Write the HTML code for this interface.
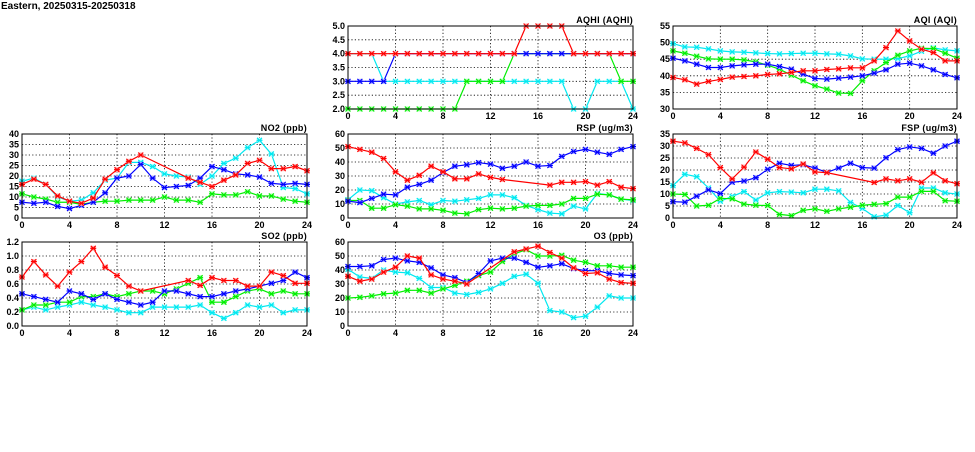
<!DOCTYPE html>
<html><head><meta charset="utf-8"><style>
body{margin:0;background:#fff;width:975px;height:447px;overflow:hidden}
svg text{font-family:"Liberation Sans",sans-serif;font-size:9px;font-weight:bold;fill:#000}
</style></head><body>
<svg id="s" width="975" height="447" xmlns="http://www.w3.org/2000/svg">
<text x="1" y="9" style="font-size:10px">Eastern, 20250315-20250318</text>
</svg>
<script>
const N=null;
const P=[
{t:"AQHI (AQHI)",x:348,y:26,w:285,h:83,min:2,max:5,st:0.5,f:1,s:{
cyan:[4,4,4,3,3,3,3,3,3,3,3,3,3,3,3,3,3,3,3,2,2,3,3,3,2],
green:[2,2,2,2,2,2,2,2,2,2,3,3,3,3,4,4,4,4,4,4,4,4,4,3,3],
blue:[3,3,3,3,4,4,4,4,4,4,4,4,4,4,4,4,4,4,4,4,4,4,4,4,4],
red:[4,4,4,4,4,4,4,4,4,4,4,4,4,4,4,5,5,5,5,4,4,4,4,4,4]}},
{t:"AQI (AQI)",x:673,y:26,w:284,h:83,min:30,max:55,st:5,f:0,s:{
cyan:[49.7,48.7,48.6,48.1,47.5,47.2,47.1,46.9,46.7,46.6,46.7,46.8,46.8,46.6,46.5,46,45.1,45,45,45.2,46,47.4,48.4,47.8,47.5],
green:[47.5,46.8,45.9,45.1,45,45,44.8,44.2,43.2,42,40.2,38.5,37,36,34.8,34.7,38.5,41.5,44,46.2,47.5,48.3,48.2,46.8,45.3],
blue:[45.3,44.5,43.5,42.5,42.5,43,43.3,43.5,43.5,42.8,42,40.5,39.2,39,39.3,39.6,40,40.8,41.8,43.5,43.8,43,41.8,40.4,39.4],
red:[39.5,38.8,37.5,38.3,38.9,39.6,39.8,40,40.4,40.6,41,41.5,41.5,41.9,42.1,42.4,42.4,44.5,48.5,53.5,50.5,48,47,44.5,44.5]}},
{t:"NO2 (ppb)",x:22,y:134,w:285,h:84,min:0,max:40,st:5,f:0,s:{
cyan:[17.5,19,16,10,8,8.5,12,18,19,26.5,26.5,24.5,21,20,19.5,16,20,26,28.5,33.5,37,30.5,14.5,14,11.5],
green:[11.5,10,9,7.5,7.5,6.5,7.5,8,8,8.5,8.5,8.5,10,8.5,8.5,7.5,11.5,11,11,12.5,10.5,10.5,9,8,7.5],
blue:[7.5,7,7.5,5.5,4.5,6,7.5,12,19,20,25.5,19,14.5,15,15.5,19,24.5,23,21,20.5,19.5,16.5,16,16.5,16],
red:[16,18.5,16,10.5,8,7,9.5,18.5,23,27,30,N,N,N,19,17,15,18,20.5,26,27.5,23.5,23.5,24.5,22.5]}},
{t:"RSP (ug/m3)",x:348,y:134,w:285,h:84,min:0,max:60,st:10,f:0,s:{
cyan:[13,20,19.5,14.5,10,11.5,12.5,9.5,12.5,12,13,14,16.5,16.5,14.5,9,6,3.5,3,8.5,6.5,17.5,16.5,13.5,12.5],
green:[12.5,12.5,7,7,9.5,8.5,6.5,6.5,5.5,3.5,3,6,7,6.5,7,8.5,9,9,10,14,14,17,16.5,13.5,13],
blue:[12,11,14,17,16.5,22,24,27,32.5,37,38,39.5,38.5,35.5,37,40,37,37.5,44,47.5,49,47,45.5,49,51],
red:[51,49,47,42.5,33,27,30.5,37,33,28,28,31.5,29,27.5,N,N,N,23.5,25.5,25.5,26,23.5,26,22,21]}},
{t:"FSP (ug/m3)",x:673,y:134,w:284,h:84,min:0,max:35,st:5,f:0,s:{
cyan:[13.5,18.2,17.2,12.5,7,9,11,7.5,10.5,11,10.8,10.5,12,12,11.3,6.5,4,0.5,1.2,5.2,2.2,12.5,12.5,10.5,10],
green:[10,9.8,5,5.3,8.2,8,5.8,5.3,5.2,1.5,1,3.2,3.8,2.8,3.8,4.5,5.3,5.7,6,8.7,8.7,11.1,11.1,7.2,7],
blue:[6.8,6.6,9.1,11.7,10.2,14.9,15.4,16.8,20.3,22.8,21.9,22.2,20.8,19,20.8,22.8,21,20.8,25.1,28.5,29.6,29,27,30,32],
red:[32,31.3,29,26.4,21,16.3,21.2,27.5,24.5,21,20.5,22.5,19.2,18.9,N,N,N,14.8,16.3,15.5,16.3,14.9,18.8,15.5,14.3]}},
{t:"SO2 (ppb)",x:22,y:242,w:285,h:84,min:0,max:1.2,st:0.2,f:1,s:{
cyan:[.23,.27,.23,.27,.30,.34,.30,.27,.23,.19,.19,.27,.27,.27,.27,.30,.19,.11,.19,.30,.27,.30,.19,.23,.23],
green:[.23,.30,.30,.34,.34,.42,.42,.46,.42,.46,.50,.50,.46,.53,.61,.69,.34,.34,.42,.50,.53,.46,.50,.46,.46],
blue:[.46,.42,.38,.34,.50,.46,.38,.46,.38,.34,.30,.34,.50,.50,.46,.42,.42,.46,.50,.53,.57,.61,.65,.77,.69],
red:[.7,.92,.73,.57,.77,.92,1.11,.84,.72,.57,.5,N,N,N,.65,.58,.69,.65,.65,.57,.57,.77,.72,.61,.61]}},
{t:"O3 (ppb)",x:348,y:242,w:285,h:84,min:0,max:60,st:10,f:0,s:{
cyan:[40.5,35,34,40,38.5,38,34,27.5,27.5,23.5,22.5,24,26.5,30.5,35.5,37,30.5,11,10,6,7,13.5,21.5,20,20],
green:[20,20.5,21.5,23,23.5,25.5,25.5,23.5,26.5,29,32,36,38.5,46,51.5,54.5,50,50,50.5,47,45.5,43,43,42,42],
blue:[42.5,42.5,43,47.5,48.5,46.5,45.5,41.5,36.5,34.5,31,37.5,46.5,48.5,48.5,45.5,42,43,44.5,41,39.5,39.5,37.5,36.5,36],
red:[35.5,32,33.5,38.5,42,50,48.5,36.5,33.5,32,30,N,N,N,53,55,57,52.5,48.5,41.5,37.5,38,33.5,31,30.5]}}
];
const C={cyan:["#00e8f0","#b0ffff"],green:["#00ee00","#b0ffb0"],blue:["#0000ff","#b0b0ff"],red:["#ff0000","#ffb0b0"]};
let h="";
for(const p of P){
 const X=i=>p.x+i*p.w/24, Y=v=>p.y+p.h-(v-p.min)/(p.max-p.min)*p.h;
 h+=`<text x="${p.x+p.w}" y="${p.y-3}" text-anchor="end" letter-spacing="0.3">${p.t}</text>`;
 const n=Math.round((p.max-p.min)/p.st);
 for(let k=0;k<=n;k++){const v=p.min+k*p.st,y=Y(v);
  if(k>0&&k<n)h+=`<line x1="${p.x}" x2="${p.x+p.w}" y1="${y}" y2="${y}" stroke="#000" stroke-width="0.8" stroke-dasharray="1.2,2.2"/>`;
  h+=`<text x="${p.x-3}" y="${y+3}" text-anchor="end">${v.toFixed(p.f)}</text>`;}
 for(let i=0;i<=24;i+=4){const x=X(i);
  if(i>0&&i<24)h+=`<line x1="${x}" x2="${x}" y1="${p.y}" y2="${p.y+p.h}" stroke="#000" stroke-width="0.8" stroke-dasharray="1.2,2.2"/>`;
  h+=`<text x="${x}" y="${p.y+p.h+10}" text-anchor="middle">${i}</text>`;}
 for(const k of ["cyan","green","blue","red"]){const d=p.s[k],c=C[k];
  const pts=d.map((v,i)=>v==null?null:[X(i),Y(v)]).filter(a=>a);
  h+=`<polyline fill="none" stroke="${c[0]}" stroke-width="1.2" points="${pts.map(a=>a.join(',')).join(' ')}"/>`;
  for(const [x,y] of pts){h+=`<rect x="${x-2.5}" y="${y-2.5}" width="5" height="5" fill="${c[1]}"/><path d="M${x-2.5},${y-2.5}L${x+2.5},${y+2.5}M${x-2.5},${y+2.5}L${x+2.5},${y-2.5}M${x-3},${y}H${x+3}" stroke="${c[0]}" stroke-width="1.1"/>`;}
 }
 h+=`<rect x="${p.x}" y="${p.y}" width="${p.w}" height="${p.h}" fill="none" stroke="#000" stroke-width="1"/>`;
}
document.getElementById("s").insertAdjacentHTML("beforeend",h);
</script>
</body></html>
